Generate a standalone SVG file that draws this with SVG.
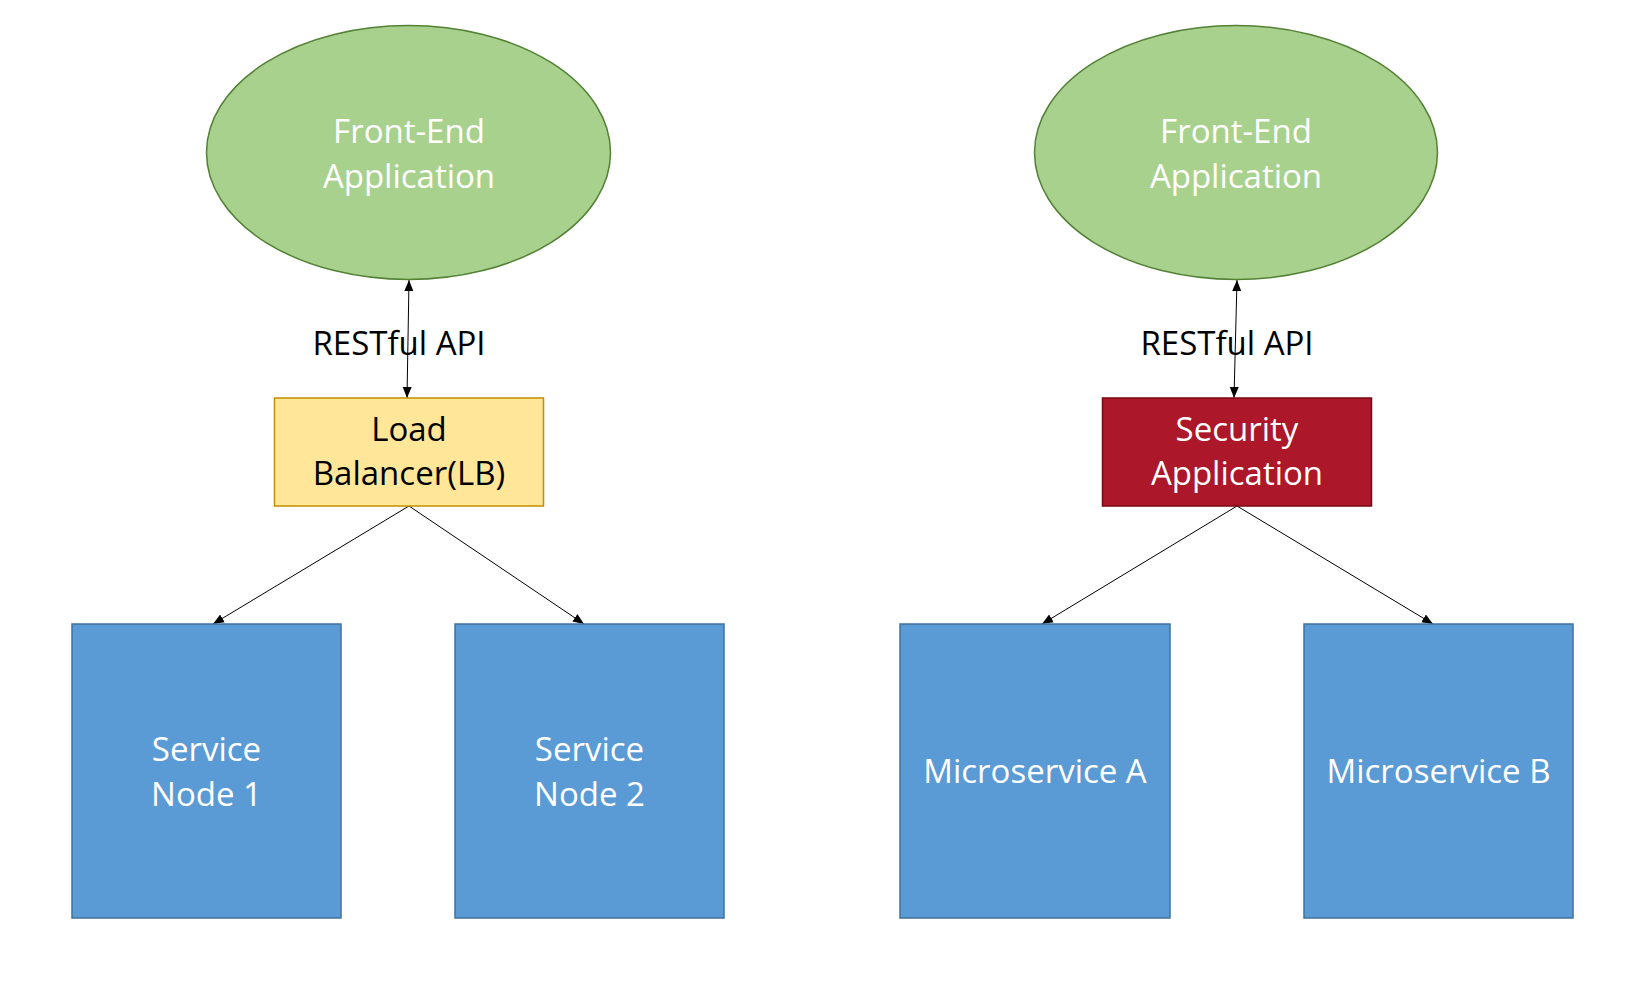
<svg xmlns="http://www.w3.org/2000/svg" width="1645" height="984" viewBox="0 0 1645 984">
<style>
.ell{fill:#A9D18E;stroke:#538135;stroke-width:1.5}
.blue{fill:#5B9BD5;stroke:#41719C;stroke-width:1.5}
.lb{fill:#FFE699;stroke:#BF9000;stroke-width:1.5}
.sec{fill:#AD172A;stroke:#7A0A14;stroke-width:1.5}
text{font-family:"Open Sans","Noto Sans",sans-serif;font-size:33px;text-anchor:middle}
.w{fill:#FFFFFF}
.k{fill:#000000}
.edge{stroke:#000;stroke-width:1;fill:none;marker-end:url(#ah)}
.dbl{marker-start:url(#ah)}
</style>
<defs>
<marker id="ah" markerUnits="userSpaceOnUse" markerWidth="12" markerHeight="10" refX="11" refY="5" orient="auto-start-reverse">
<path d="M0,0.5 L11,5 L0,9.5 z" fill="#000"/>
</marker>
</defs>
<rect width="1645" height="984" fill="#FFFFFF"/>
<g id="connectors">
<line class="edge dbl" x1="409" y1="280" x2="407" y2="398"/>
<line class="edge dbl" x1="1237" y1="280" x2="1234" y2="398"/>
<line class="edge" x1="409" y1="506" x2="213" y2="624"/>
<line class="edge" x1="409" y1="506" x2="584" y2="624"/>
<line class="edge" x1="1237" y1="506" x2="1042" y2="624"/>
<line class="edge" x1="1237" y1="506" x2="1433" y2="624"/>
<text class="k" x="399" y="355">RESTful API</text>
<text class="k" x="1227" y="355">RESTful API</text>
</g>
<g id="fe-left">
<ellipse class="ell" cx="408.5" cy="152.5" rx="202" ry="127"/>
<text class="w" x="409" y="143">Front-End</text>
<text class="w" x="409" y="188">Application</text>
</g>
<g id="fe-right">
<ellipse class="ell" cx="1236" cy="152.5" rx="201.5" ry="127"/>
<text class="w" x="1236" y="143">Front-End</text>
<text class="w" x="1236" y="188">Application</text>
</g>
<g id="load-balancer">
<rect class="lb" x="274.5" y="398" width="269" height="108"/>
<text class="k" x="409" y="441">Load</text>
<text class="k" x="409" y="485">Balancer(LB)</text>
</g>
<g id="security-app">
<rect class="sec" x="1102.5" y="398" width="269" height="108"/>
<text class="w" x="1237" y="441">Security</text>
<text class="w" x="1237" y="485">Application</text>
</g>
<g id="service-node-1">
<rect class="blue" x="72" y="624" width="269" height="294"/>
<text class="w" x="206.5" y="761">Service</text>
<text class="w" x="206.5" y="806">Node 1</text>
</g>
<g id="service-node-2">
<rect class="blue" x="455" y="624" width="269" height="294"/>
<text class="w" x="589.5" y="761">Service</text>
<text class="w" x="589.5" y="806">Node 2</text>
</g>
<g id="microservice-a">
<rect class="blue" x="900" y="624" width="270" height="294"/>
<text class="w" x="1035" y="783">Microservice A</text>
</g>
<g id="microservice-b">
<rect class="blue" x="1304" y="624" width="269" height="294"/>
<text class="w" x="1438.5" y="783">Microservice B</text>
</g>
</svg>
